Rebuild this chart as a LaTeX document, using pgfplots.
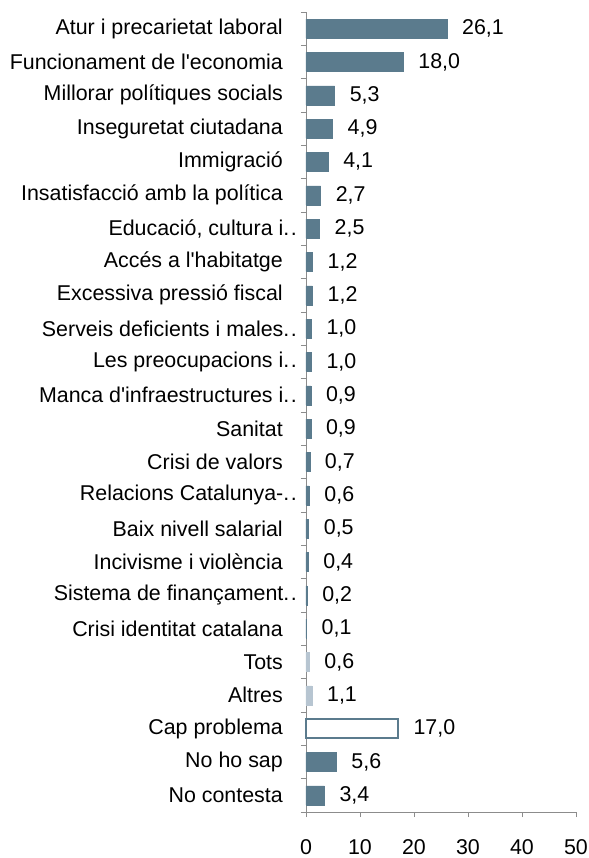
\documentclass[border=0pt]{standalone}
\usepackage{fontspec}
\setmainfont{Liberation Sans}
\usepackage{pgfplots}
\pgfplotsset{compat=1.18}
\definecolor{barA}{HTML}{5B7B8D}
\definecolor{barB}{HTML}{B7C5D1}
\definecolor{axgray}{HTML}{8C8C8C}
\newcommand\pad{\kern14bp}
\newcommand\dd{.\kern1.5bp.}
\newcommand\q{\textquotesingle}
\begin{document}
\begin{tikzpicture}
\begin{axis}[
  at={(0,0)}, anchor=south west,
  scale only axis, width=270bp, height=800bp,
  xbar, bar width=19bp, bar shift=0pt,
  xmin=0, xmax=50, xtick={0,10,...,50},
  ymin=-0.5, ymax=23.5,
  ytick={0,...,23},
  minor ytick={-0.5,0.5,...,23.5},
  yticklabels={{No contesta\pad},{No ho sap\pad},{Cap problema\pad},{Altres\pad},{Tots\pad},
    {Crisi identitat catalana\pad},{Sistema de finançament\dd},{Incivisme i violència\pad},
    {Baix nivell salarial\pad},{Relacions Catalunya-\dd},{Crisi de valors\pad},{Sanitat\pad},
    {Manca d\q infraestructures i\dd},{Les preocupacions i\dd},{Serveis deficients i males\dd},
    {Excessiva pressió fiscal\pad},{Accés a l\q habitatge\pad},{Educació, cultura i\dd},
    {Insatisfacció amb la política\pad},{Immigració\pad},{Inseguretat ciutadana\pad},
    {Millorar polítiques socials\pad},{Funcionament de l\q economia\pad},{Atur i precarietat laboral\pad}},
  axis lines=left, axis line style={-, draw=axgray, line width=0.8bp},
  tick align=outside, major tick length=5bp, minor tick length=5bp,
  tick style={draw=axgray, line width=0.8bp},
  major y tick style={draw=none},
  yticklabel style={anchor=east, inner sep=0pt, xshift=-4bp, font=\fontsize{21.4bp}{25bp}\selectfont},
  xticklabel style={inner sep=0pt, yshift=-22bp, font=\fontsize{21.4bp}{25bp}\selectfont},
  /pgf/number format/assume math mode=true,
  point meta=x,
  nodes near coords={\pgfmathprintnumber[fixed, fixed zerofill, precision=1, use comma, assume math mode=true]{\pgfplotspointmeta}},
  every node near coord/.append style={anchor=west, inner sep=0pt, xshift=15bp, text=black, font=\fontsize{21.4bp}{25bp}\selectfont},
  clip=false,
]
\addplot[fill=barA, draw=barA] coordinates {
  (26.1,23) (18.0,22) (5.3,21) (4.9,20) (4.1,19) (2.7,18) (2.5,17) (1.2,16)
  (1.2,15) (1.0,14) (1.0,13) (0.9,12) (0.9,11) (0.7,10) (0.6,9) (0.5,8)
  (0.4,7) (0.2,6) (0.1,5) (5.6,1) (3.4,0)
};
\addplot[fill=barB, draw=barB] coordinates {(0.6,4) (1.1,3)};
\addplot[fill=white, draw=barA, line width=1.5bp] coordinates {(17.0,2)};
\end{axis}
\pgfresetboundingbox
\path (-306bp,-46bp) rectangle (283bp,812bp);
\end{tikzpicture}
\end{document}
